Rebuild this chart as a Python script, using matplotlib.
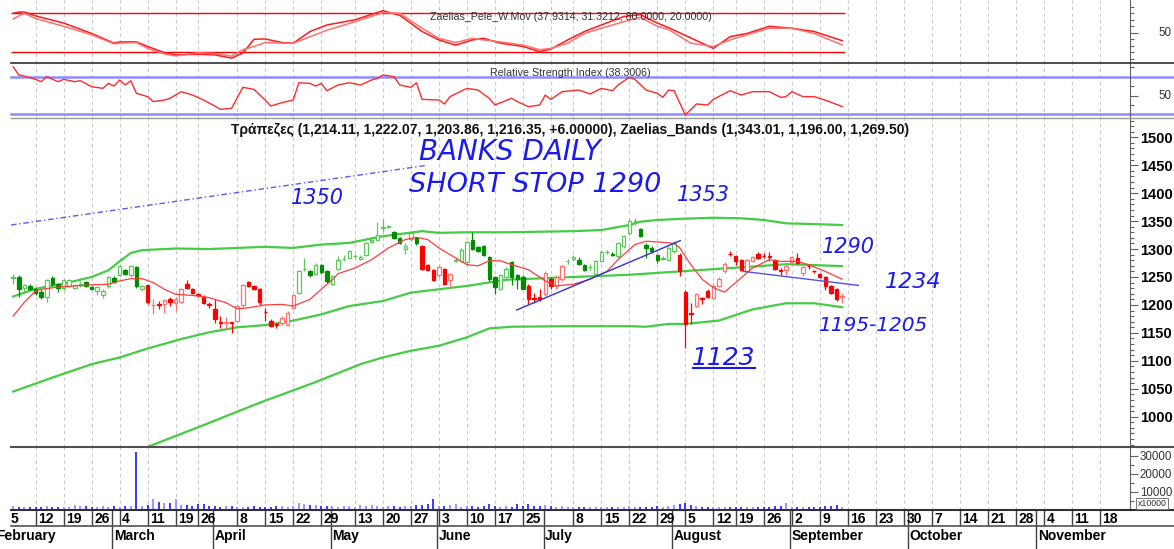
import numpy as np
import pandas as pd
import matplotlib
matplotlib.use("Agg")
import matplotlib.pyplot as plt
from matplotlib.lines import Line2D
from matplotlib.transforms import blended_transform_factory

plt.rcParams['font.family'] = ['Liberation Sans', 'DejaVu Sans']

# ATHEX 2024 calendar: days with no trading
holidays = ['2024-03-18', '2024-03-25', '2024-03-29', '2024-04-01', '2024-05-01',
            '2024-05-02', '2024-05-03', '2024-05-06', '2024-06-24', '2024-08-15']
first_day = '2024-02-06'

# daily candles, Feb 6 .. Sep 13
opens = [1249, 1250, 1231, 1234, 1228, 1224, 1215, 1248, 1238, 1230,
         1234, 1230, 1236, 1241, 1232, 1225, 1217, 1234, 1248, 1253,
         1263, 1253, 1268, 1229, 1235, 1199, 1201, 1201, 1210, 1204,
         1205, 1238, 1228, 1220, 1215, 1202, 1193, 1169, 1167, 1169,
         1172, 1199, 1241, 1233, 1228, 1188, 1172, 1166, 1168, 1164,
         1195, 1222, 1264, 1260, 1256, 1272, 1260, 1238, 1265, 1282,
         1284, 1287, 1283, 1290, 1312, 1317, 1338, 1340, 1330, 1320,
         1300, 1318, 1320, 1306, 1272, 1263, 1253, 1264, 1245, 1279,
         1279, 1277, 1317, 1303, 1306, 1285, 1250, 1229, 1250, 1276,
         1253, 1250, 1234, 1213, 1214, 1219, 1247, 1234, 1246, 1278,
         1283, 1281, 1272, 1267, 1255, 1279, 1294, 1292, 1287, 1305,
         1328, 1350, 1336, 1308, 1302, 1290, 1283, 1281, 1296, 1290,
         1223, 1185, 1198, 1212, 1225, 1213, 1234, 1260, 1292, 1287,
         1280, 1261, 1278, 1292, 1288, 1287, 1280, 1262, 1262, 1276,
         1284, 1257, 1270, 1261, 1256, 1250, 1234, 1228, 1214.11]
highs = [1255, 1253, 1238, 1238, 1230, 1228, 1247, 1252, 1240, 1247,
         1246, 1237, 1242, 1243, 1234, 1234, 1228, 1252, 1252, 1271,
         1265, 1272, 1270, 1235, 1236, 1210, 1207, 1210, 1214, 1214,
         1231, 1244, 1230, 1222, 1217, 1205, 1210, 1180, 1179, 1170,
         1199, 1238, 1243, 1236, 1231, 1195, 1175, 1168, 1180, 1190,
         1220, 1262, 1284, 1262, 1275, 1274, 1263, 1254, 1287, 1290,
         1298, 1292, 1290, 1313, 1318, 1349, 1353, 1343, 1332, 1322,
         1311, 1331, 1322, 1308, 1274, 1265, 1271, 1266, 1258, 1285,
         1302, 1315, 1331, 1305, 1308, 1287, 1252, 1256, 1268, 1278,
         1256, 1253, 1237, 1222, 1228, 1260, 1250, 1253, 1272, 1283,
         1290, 1286, 1274, 1274, 1280, 1298, 1298, 1295, 1313, 1326,
         1353, 1355, 1338, 1310, 1305, 1292, 1287, 1305, 1314, 1293,
         1227, 1204, 1222, 1215, 1228, 1240, 1250, 1276, 1296, 1289,
         1282, 1282, 1288, 1294, 1293, 1294, 1282, 1266, 1271, 1288,
         1293, 1269, 1274, 1263, 1258, 1252, 1236, 1230, 1222.07]
lows = [1238, 1215, 1224, 1226, 1217, 1210, 1205, 1234, 1224, 1227,
        1232, 1228, 1232, 1232, 1226, 1217, 1213, 1231, 1239, 1251,
        1254, 1250, 1230, 1225, 1201, 1183, 1192, 1186, 1198, 1190,
        1203, 1229, 1219, 1215, 1202, 1195, 1168, 1158, 1157, 1150,
        1170, 1196, 1232, 1226, 1200, 1171, 1160, 1158, 1165, 1162,
        1192, 1220, 1260, 1250, 1254, 1255, 1240, 1235, 1262, 1278,
        1282, 1284, 1281, 1287, 1310, 1316, 1332, 1338, 1318, 1309,
        1292, 1315, 1308, 1262, 1260, 1242, 1250, 1236, 1231, 1276,
        1276, 1274, 1298, 1294, 1287, 1243, 1219, 1227, 1248, 1235,
        1228, 1228, 1201, 1204, 1207, 1216, 1228, 1228, 1243, 1274,
        1279, 1271, 1260, 1263, 1253, 1276, 1291, 1287, 1284, 1302,
        1325, 1343, 1321, 1284, 1293, 1275, 1281, 1278, 1293, 1251,
        1123, 1166, 1196, 1201, 1213, 1212, 1232, 1258, 1288, 1272,
        1260, 1259, 1276, 1282, 1284, 1278, 1262, 1253, 1254, 1274,
        1274, 1251, 1264, 1258, 1248, 1227, 1220, 1207, 1203.86]
closes = [1250, 1228, 1235, 1229, 1221, 1215, 1245, 1237, 1230, 1244,
          1244, 1235, 1237, 1234, 1229, 1232, 1225, 1250, 1241, 1269,
          1256, 1270, 1234, 1233, 1205, 1200, 1200, 1208, 1205, 1210,
          1229, 1231, 1222, 1218, 1204, 1199, 1174, 1168, 1170, 1168,
          1198, 1236, 1234, 1229, 1205, 1187, 1163, 1164, 1177, 1185,
          1218, 1260, 1265, 1253, 1272, 1259, 1243, 1251, 1281, 1283,
          1296, 1288, 1285, 1311, 1316, 1326, 1339, 1341, 1320, 1311,
          1306, 1328, 1310, 1265, 1262, 1244, 1268, 1238, 1256, 1280,
          1299, 1313, 1300, 1296, 1289, 1246, 1232, 1253, 1264, 1250,
          1247, 1229, 1210, 1210, 1211, 1257, 1234, 1250, 1270, 1279,
          1285, 1273, 1262, 1268, 1278, 1294, 1295, 1289, 1311, 1324,
          1350, 1351, 1323, 1302, 1296, 1281, 1284, 1302, 1311, 1261,
          1166, 1184, 1219, 1211, 1215, 1234, 1247, 1274, 1291, 1278,
          1263, 1280, 1286, 1284, 1287, 1286, 1265, 1261, 1269, 1286,
          1275, 1267, 1269, 1260, 1250, 1234, 1222, 1210.35, 1216.35]
# trend colouring of the candles: g = green, r = red
trend = 'g' * 24 + 'r' * 27 + 'g' * 22 + 'r' * 6 + 'g' * 13 + 'r' * 7 + 'g' * 20 + 'r' * 30
volume = [2200, 1500, 1300, 1600, 1400, 1200, 1800, 1500, 1300, 1600,
          1400, 2400, 2000, 1700, 1300, 1500, 1700, 1400, 1900, 1600,
          1800, 2000, 32200, 1700, 2400, 5900, 3900, 3500, 3600, 5600,
          2600, 2700, 2000, 2900, 3000, 2100, 1800, 1600, 1700, 1900,
          1500, 1600, 1500, 1800, 1400, 1600, 1500, 1700, 2000, 1600,
          2100, 3400, 3100, 2700, 2500, 2100, 1700, 1900, 1500, 2200,
          1800, 1600, 2400, 2000, 2300, 1700, 1500, 1800, 2000, 1600,
          1700, 2100, 2400, 2700, 2900, 5900, 2000, 1700, 2300, 2900,
          1600, 1800, 2200, 1500, 2000, 2900, 1900, 1600, 1800, 1500,
          2900, 2100, 3200, 2200, 1800, 2600, 1900, 1500, 1700, 1400,
          1200, 1300, 1500, 1300, 1200, 1400, 1300, 1500, 1300, 1600,
          1700, 1500, 1400, 1600, 1500, 1700, 1400, 2200, 2700, 3200,
          3400, 2600, 1800, 1500, 1600, 1400, 1300, 1500, 1200, 1300,
          1400, 1200, 1500, 1300, 1600, 1400, 1800, 2000, 3400, 1500,
          1400, 1300, 1600, 1400, 1500, 1800, 1700, 2500, 1600]

# indicator curves, by trading-day number (Feb 5 = 0)
upper_day = [1, 5, 10, 15, 18, 20, 22, 24, 30, 36, 41, 46, 51, 56, 61, 67, 74, 77, 82, 89,
             101, 106, 111, 113, 116, 120, 126, 131, 135, 139, 143, 149]
upper_val = [1215, 1229, 1238, 1250, 1262, 1278, 1293, 1298, 1301, 1300, 1302, 1304, 1302,
             1308, 1311, 1323, 1332, 1329, 1330, 1330, 1332, 1334, 1343, 1349, 1352, 1354,
             1356, 1355, 1352, 1346, 1345, 1343.01]
mid_day = [1, 8, 15, 20, 25, 31, 36, 41, 46, 51, 56, 61, 67, 72, 77, 82, 89, 101, 111, 120,
           126, 135, 139, 149]
mid_val = [1045, 1070, 1094, 1106, 1122, 1139, 1151, 1160, 1164, 1172, 1183, 1198, 1207, 1222,
           1228, 1234, 1245, 1250, 1254, 1260, 1264, 1270, 1273, 1269.5]
low_day = [20, 25, 35, 45, 55, 63, 67, 72, 77, 82, 86, 90, 100, 111, 114, 118, 121, 127, 133,
           139, 144, 149]
low_val = [925, 946, 985, 1025, 1062, 1094, 1106, 1118, 1127, 1142, 1158, 1161, 1162, 1162,
           1161, 1166, 1166, 1172, 1192, 1203, 1203, 1196]
ma_day = [1, 3, 5, 6, 9, 12, 15, 18, 20, 22, 24, 26, 28, 30, 33, 36, 39, 41, 43, 46, 49, 51,
          54, 56, 58, 59, 62, 65, 68, 71, 73, 75, 77, 80, 82, 84, 86, 88, 90, 93, 96, 98, 101,
          104, 107, 109, 112, 114, 117, 119, 120, 122, 124, 126, 128, 130, 133, 136, 138, 141,
          143, 146, 149]
ma_val = [1180, 1205, 1225, 1228, 1232, 1234, 1236, 1237, 1243, 1247, 1247, 1240, 1228, 1219,
          1217, 1213, 1204, 1193, 1195, 1200, 1201, 1198, 1210, 1228, 1245, 1256, 1266, 1281,
          1302, 1317, 1321, 1317, 1302, 1284, 1272, 1270, 1279, 1279, 1272, 1263, 1243, 1234,
          1237, 1246, 1260, 1281, 1308, 1314, 1312, 1310, 1302, 1272, 1246, 1231, 1223, 1240,
          1266, 1281, 1278, 1278, 1272, 1260, 1246]
pele_day = [1, 2, 3, 5, 10, 15, 19, 20, 23, 25, 28, 30, 34, 37, 40, 42, 44, 46, 49, 51, 54,
            57, 62, 67, 70, 74, 77, 80, 83, 85, 88, 92, 95, 97, 100, 103, 106, 110, 113, 116,
            118, 122, 126, 129, 132, 136, 140, 144, 149]
pele_a = [80, 82, 82, 76, 65, 49, 34, 36, 36, 29, 19.5, 16, 17, 16, 11, 19, 40, 40.5, 35, 34,
          52, 62, 70, 84, 77, 52, 39, 31, 39, 41.5, 34, 29, 21, 25, 39, 52, 62, 75, 78, 65, 58,
          42, 26, 44, 49, 60, 57, 52, 37.93]
pele_b = [71, 76, 80, 72, 60, 47, 33, 34, 35, 26, 17.5, 14.5, 19, 18, 14, 24, 29, 35, 34, 34,
          44, 54, 67, 81, 80, 57, 41.5, 35, 41.5, 39, 36, 31, 24, 26, 34, 49, 57, 67, 74, 60, 55,
          34, 29, 39, 47, 57, 57, 49, 31.32]
rsi_day = [1, 2, 3, 5, 6, 7, 9, 10, 12, 13, 15, 17, 18, 19, 20, 21, 22, 23, 25, 26, 28, 29,
           31, 33, 35, 37, 38, 40, 42, 44, 46, 47, 49, 51, 52, 54, 55, 56, 57, 59, 61, 63, 65,
           66, 67, 69, 70, 72, 73, 74, 77, 78, 79, 82, 84, 86, 87, 90, 91, 93, 95, 96, 97, 99,
           102, 104, 106, 108, 109, 111, 112, 114, 116, 117, 118, 119, 121, 123, 125, 126, 129,
           131, 133, 136, 138, 139, 140, 142, 144, 146, 149]
rsi_val = [80.6, 71.8, 70.7, 67.2, 64.7, 70, 64.7, 67.2, 64.7, 65.8, 59.4, 57.6, 62.9, 60,
           66.5, 61.2, 65.8, 52.3, 48.8, 43.5, 45.2, 47, 54.1, 50.5, 45.2, 38.8, 35.3, 36.4,
           58.7, 56.5, 45.2, 38.8, 42.4, 45.2, 63.6, 62.9, 60, 62.9, 55.1, 61.2, 63.6, 61.2,
           66.5, 68.2, 71.8, 70, 61.2, 58.7, 63.6, 45.9, 45.2, 41, 48.8, 57.6, 55.8, 47, 39.9,
           47, 43.5, 38.1, 39.9, 50.5, 45.9, 54.1, 55.8, 51.6, 57.6, 55.1, 61.2, 69.3, 67.2,
           55.8, 52.3, 48.1, 55.8, 55.1, 29.3, 41, 39.9, 45.9, 55.1, 50.5, 54.1, 54.1, 48.1,
           48.8, 54.1, 48.8, 48.8, 45, 38.3]

# hand-drawn trend lines: (day, price) end points
dash_line = ([0.6, 75], [1343, 1450])
rise_line = ([90.9, 120.1], [1191, 1315])
fall_line = ([131.4, 151.9], [1260, 1235])

week_dates = ['2024-02-05', '2024-02-12', '2024-02-19', '2024-02-26', '2024-03-04',
              '2024-03-11', '2024-03-19', '2024-03-26', '2024-04-08', '2024-04-15',
              '2024-04-22', '2024-04-29', '2024-05-13', '2024-05-20', '2024-05-27',
              '2024-06-03', '2024-06-10', '2024-06-17', '2024-06-25', '2024-07-08',
              '2024-07-15', '2024-07-22', '2024-07-29', '2024-08-05', '2024-08-12',
              '2024-08-19', '2024-08-26', '2024-09-02', '2024-09-09', '2024-09-16',
              '2024-09-23', '2024-09-30', '2024-10-07', '2024-10-14', '2024-10-21',
              '2024-10-28', '2024-11-04', '2024-11-11', '2024-11-18']
extra_grid = ['2024-07-02']
month_names = ['February', 'March', 'April', 'May', 'June', 'July', 'August',
               'September', 'October', 'November']

# ---- calendar -> day numbers
days = pd.bdate_range('2024-02-01', '2024-11-29')
days = days[~days.isin(pd.to_datetime(holidays))]
base = days.get_loc(pd.Timestamp('2024-02-05'))


def dnum(d):
    return days.get_loc(pd.Timestamp(d)) - base


x = dnum(first_day) + np.arange(len(closes))
o, h, l, c = map(np.array, (opens, highs, lows, closes))
XL = (0.607, 200.4)

W, H = 1174, 549
fig = plt.figure(figsize=(W / 100, H / 100), dpi=100)


def panel(top, bottom):
    return fig.add_axes([11 / W, 1 - bottom / H, (1130 - 11) / W, (bottom - top) / H])


ax1 = panel(0, 63)
ax2 = panel(63, 118)
ax3 = panel(118, 446.5)
ax4 = panel(446.5, 509.5)
axd = panel(509.5, 549)

grid_x = [dnum(d) for d in week_dates[1:] + extra_grid]
for ax in (ax1, ax2, ax3, ax4):
    ax.set_xlim(*XL)
    for s in ('left', 'top', 'bottom'):
        ax.spines[s].set_visible(False)
    ax.spines['right'].set_color('#606060')
    ax.tick_params(axis='x', which='both', bottom=False, labelbottom=False)
    ax.yaxis.tick_right()
    ax.tick_params(axis='y', which='major', length=6, width=0.8, color='#606060')
    ax.tick_params(axis='y', which='minor', length=3, width=0.8, color='#606060')
    for gx in grid_x:
        ax.axvline(gx, color='#c8c8c8', lw=0.8, ls=(0, (3, 3)), zorder=0)

# ---- top: Pele W.Mov
ax1.set_ylim(3.5, 100.5)
ax1.hlines([80, 20], XL[0], x[-1] + 0.5, color='#ff0000', lw=1)
ax1.plot(pele_day, pele_a, color='#ff1a1a', lw=1.1)
ax1.plot(pele_day, pele_b, color='#ff7070', lw=1.1)
ax1.text(0.5, 0.73, 'Zaelias_Pele_W.Mov (37.9314, 31.3212, 80.0000, 20.0000)',
         transform=ax1.transAxes, ha='center', va='center', fontsize=7.7, color='#333333')

# ---- RSI
ax2.set_ylim(26.06, 84.6)
for lvl in (70, 30):
    ax2.axhline(lvl, xmin=0, xmax=(W - 11) / (1130 - 11), color='#8c8cff', lw=1.8, clip_on=False)
ax2.plot(rsi_day, rsi_val, color='#ff2a2a', lw=1)
ax2.text(0.5, 0.818, 'Relative Strength Index (38.3006)', transform=ax2.transAxes,
         ha='center', va='center', fontsize=7.7, color='#333333')

for ax, minors in ((ax1, np.arange(10, 100, 10)), (ax2, np.arange(30, 90, 10))):
    ax.set_yticks([50])
    ax.set_yticklabels([''])
    ax.set_yticks(minors, minor=True)
    tr = blended_transform_factory(fig.transFigure, ax.transData)
    ax.text(1171 / W, 50, '50', transform=tr, ha='right', va='center', fontsize=8.4,
            color='#333333', clip_on=False)

# ---- price
ax3.set_ylim(946.7, 1534.5)
ax3.plot(upper_day, upper_val, color='#44cc44', lw=1.6, zorder=1)
ax3.plot(mid_day, mid_val, color='#44cc44', lw=1.6, zorder=1)
ax3.plot(low_day, low_val, color='#44cc44', lw=1.6, zorder=1)
ax3.plot(ma_day, ma_val, color='#ff3c3c', lw=0.9, zorder=4)

up = c >= o
is_green = np.array([t == 'g' for t in trend])
edge = np.where(is_green, np.where(up, '#5ac85a', '#008c00'), np.where(up, '#ff7272', '#ff0000'))
face = np.where(up, 'white', edge)
body_lo = np.minimum(o, c)
body_h = np.maximum(np.abs(c - o), 0.8)
ax3.vlines(x, l, h, colors=edge, lw=0.9, zorder=2)
ax3.bar(x, body_h, bottom=body_lo, width=0.62, color=face, edgecolor=edge, linewidth=0.9, zorder=3)

ax3.plot(*dash_line, color='#5a5aff', lw=1, ls=(0, (4, 2, 1, 2)))
ax3.plot(*rise_line, color='#3030e0', lw=1, zorder=5)
ax3.plot(*fall_line, color='#5050f0', lw=1, zorder=5)

ax3.text(0.5, 0.963, 'Τράπεζες (1,214.11, 1,222.07, 1,203.86, 1,216.35, +6.00000), '
         'Zaelias_Bands (1,343.01, 1,196.00, 1,269.50)', transform=ax3.transAxes,
         ha='center', va='center', fontsize=10, fontweight='bold', color='#111111')

hand = dict(color='#1a1aee', family='DejaVu Sans', style='italic', ha='center', va='center')
ax3.text(89.7, 1473.7, 'BANKS DAILY', fontsize=20, **hand)
ax3.text(94.2, 1414.6, 'SHORT STOP 1290', fontsize=19.5, **hand)
ax3.text(55.4, 1391.4, '1350', fontsize=15, **hand)
ax3.text(124.2, 1396.8, '1353', fontsize=15, **hand)
ax3.text(150.2, 1302.8, '1290', fontsize=15, **hand)
ax3.text(161.7, 1240.2, '1234', fontsize=16, **hand)
ax3.text(154.4, 1163.2, '1195-1205', fontsize=14.5, **hand)
ax3.text(127.9, 1105, '1123', fontsize=18, **hand)
ax3.plot([122.4, 133.5], [1087, 1087], color='#1a1aee', lw=1.5)

ax3.set_yticks(np.arange(1000, 1501, 50))
ax3.set_yticks(np.arange(950, 1531, 10), minor=True)
ax3.tick_params(axis='y', which='major', labelsize=10.5, pad=1.5)
for lb in ax3.get_yticklabels():
    lb.set_fontweight('bold')

# ---- volume
ax4.set_ylim(0, 35000)
vcol = np.where(up, '#8f8fff', '#2a2aff')
ax4.vlines(x, 0, volume, colors=vcol, lw=1.3)
ax4.set_yticks([10000, 20000, 30000])
ax4.set_yticklabels(['10000', '20000', '30000'])
ax4.set_yticks([5000, 15000, 25000], minor=True)
ax4.tick_params(axis='y', which='major', labelsize=8.3, labelcolor='#333333', pad=1)
fig.text(1152 / W, 1 - 503.5 / H, 'x10000', fontsize=6.3, color='#333333', ha='center',
         va='center', bbox=dict(boxstyle='square,pad=0.15', fc='white', ec='#777777', lw=0.7))

# ---- date axis
axd.set_xlim(*XL)
axd.set_ylim(0, 1)
axd.axis('off')
for d in week_dates:
    k = dnum(d)
    if k > XL[0]:
        axd.vlines(k, 0.585, 1, color='#404040', lw=1)
    axd.text(k + 0.45, 0.658, str(pd.Timestamp(d).day), fontsize=10, fontweight='bold',
             ha='left', va='baseline', clip_on=False)
for m, name in enumerate(month_names):
    first = days[days.month == m + 2][0]
    k = days.get_loc(first) - base - 0.3
    if k > XL[0]:
        axd.vlines(k, 0, 1, color='#404040', lw=1)
    axd.text(k + 0.3, 0.228, name, fontsize=10, fontweight='bold', ha='left',
             va='baseline', clip_on=False)

# panel separators across the full width
for yy, col, lw in ((63, '#303030', 1.2), (118, '#9a9a9a', 1.0), (446.5, '#505050', 1.5),
                    (509.5, '#303030', 1.5), (526, '#505050', 1.2)):
    fig.add_artist(Line2D([11 / W, 1], [1 - yy / H] * 2, color=col, lw=lw))

fig.savefig('out.png', dpi=100)
